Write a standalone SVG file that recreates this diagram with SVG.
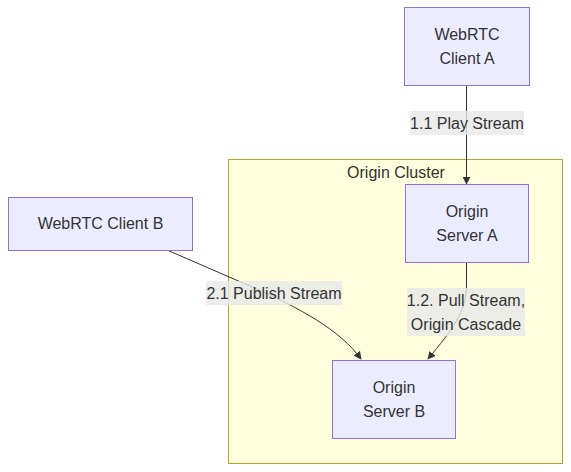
<svg xmlns="http://www.w3.org/2000/svg" width="571" height="472" viewBox="0 0 571 472">
<style>
text{font-family:"Liberation Sans",Arial,sans-serif;font-size:16px;fill:#333;text-anchor:middle;dominant-baseline:central}
.node rect{fill:#ECECFF;stroke:#9370DB;stroke-width:1}
.cluster rect{fill:#ffffde;stroke:#aaaa33;stroke-width:1}
.edge{fill:none;stroke:#333;stroke-width:1;marker-end:url(#arrow)}
.lbl{fill:#e8e8e8;opacity:0.8}
</style>
<defs>
<marker id="arrow" viewBox="0 0 10 10" refX="9" refY="5" markerWidth="8" markerHeight="8" markerUnits="userSpaceOnUse" orient="auto">
<path d="M0,0 L10,5 L0,10 z" fill="#333"/>
</marker>
</defs>
<g id="cluster-origin" class="cluster">
<rect x="228.5" y="159.5" width="334" height="304"/>
<text x="396" y="172">Origin Cluster</text>
</g>
<g id="connectors">
<path class="edge" d="M466.5,86 L466.5,184"/>
<path class="edge" d="M466.5,263 L466.5,285 C466.5,312 452,330 428,359"/>
<path class="edge" d="M167,250 L250,286 C300,308 340,330 361,359"/>
<rect class="lbl" x="410" y="111" width="114" height="24"/>
<text x="467" y="123">1.1 Play Stream</text>
<rect class="lbl" x="407" y="288" width="118" height="48"/>
<text x="466" y="300">1.2. Pull Stream,</text>
<text x="466" y="324">Origin Cascade</text>
<rect class="lbl" x="206" y="281" width="136" height="24"/>
<text x="274" y="293">2.1 Publish Stream</text>
</g>
<g id="client-a" class="node">
<rect x="404.5" y="7.5" width="125" height="78"/>
<text x="467" y="34.5">WebRTC</text>
<text x="467" y="58.5">Client A</text>
</g>
<g id="server-a" class="node">
<rect x="405.5" y="184.5" width="123" height="78"/>
<text x="467" y="211.5">Origin</text>
<text x="467" y="235.5">Server A</text>
</g>
<g id="client-b" class="node">
<rect x="8.5" y="197.5" width="184" height="53"/>
<text x="100.5" y="223.5">WebRTC Client B</text>
</g>
<g id="server-b" class="node">
<rect x="332.5" y="360.5" width="123" height="78"/>
<text x="394" y="387.5">Origin</text>
<text x="394" y="411.5">Server B</text>
</g>
</svg>
